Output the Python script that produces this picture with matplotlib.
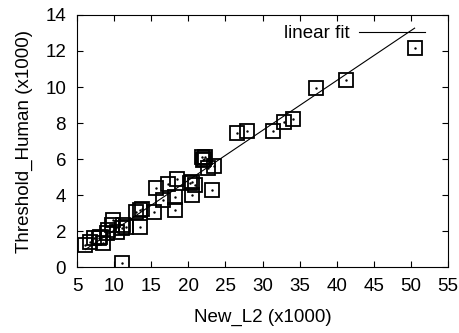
import numpy as np
import matplotlib
matplotlib.use("Agg")
import matplotlib.pyplot as plt

plt.rcParams['font.family'] = ['Liberation Sans', 'DejaVu Sans']
plt.rcParams['font.size'] = 13.5

# values (x1000)
new_l2 = [6.1, 6.8, 7.3, 7.9, 8.5, 8.1, 9.0, 9.2, 9.7, 9.9, 10.35, 11.0,
          11.2, 11.6, 13.5, 11.0, 13.0, 13.5, 13.8, 15.3, 15.7, 16.6, 17.3,
          18.4, 18.2, 18.2, 20.2, 20.45, 20.9, 20.5, 21.9, 22.1, 22.3, 22.0,
          22.7, 23.5, 23.2, 26.5, 27.9, 31.4, 32.9, 34.1, 37.2, 41.2, 50.5]
threshold_human = [1.22, 1.41, 1.6, 1.59, 1.31, 1.68, 1.87, 2.06, 2.33, 2.61,
                   1.96, 2.15, 2.33, 2.2, 2.24, 0.25, 3.07, 3.17, 3.2, 3.07,
                   4.37, 3.72, 4.6, 4.9, 3.9, 3.17, 4.65, 4.0, 4.56, 4.7, 6.1,
                   6.0, 6.1, 5.95, 5.48, 5.6, 4.28, 7.46, 7.56, 7.57, 8.06,
                   8.2, 9.93, 10.39, 12.15]

# fit line
fit_slope = 0.277
fit_intercept = -0.72

x_ticks = [5, 10, 15, 20, 25, 30, 35, 40, 45, 50, 55]
y_ticks = [0, 2, 4, 6, 8, 10, 12, 14]


def main():
    fig = plt.figure(figsize=(4.59, 3.33), dpi=100)
    ax = fig.add_axes([0.168, 0.198, 0.808, 0.757])

    x = np.array(new_l2)
    y = np.array(threshold_human)

    ax.plot(x, y, linestyle='none', marker='s', markersize=10.5,
            markerfacecolor='none', markeredgecolor='black',
            markeredgewidth=1.3)
    ax.plot(x, y, linestyle='none', marker='.', markersize=1.5,
            color='black')

    xs = np.sort(x)
    ax.plot(xs, fit_slope * xs + fit_intercept, color='black',
            linewidth=0.8, label='linear fit')

    ax.set_xlim(5, 55)
    ax.set_ylim(0, 14)
    ax.set_xticks(x_ticks)
    ax.set_yticks(y_ticks)
    ax.tick_params(direction='in', length=4, top=True, right=True,
                   width=0.8, labelsize=13.5)
    ax.tick_params(axis='x', pad=8)
    ax.tick_params(axis='y', pad=8)
    ax.set_xlabel("New_L2 (x1000)", fontsize=13.5, labelpad=10)
    ax.set_ylabel("Threshold_Human (x1000)", fontsize=13.5, labelpad=9)

    ax.legend(loc='upper right', bbox_to_anchor=(0.965, 1.0),
              frameon=False, markerfirst=False, handlelength=3.5,
              borderaxespad=0.15, handletextpad=0.5, fontsize=13.5)

    fig.savefig("out.png", dpi=100)


if __name__ == "__main__":
    main()
